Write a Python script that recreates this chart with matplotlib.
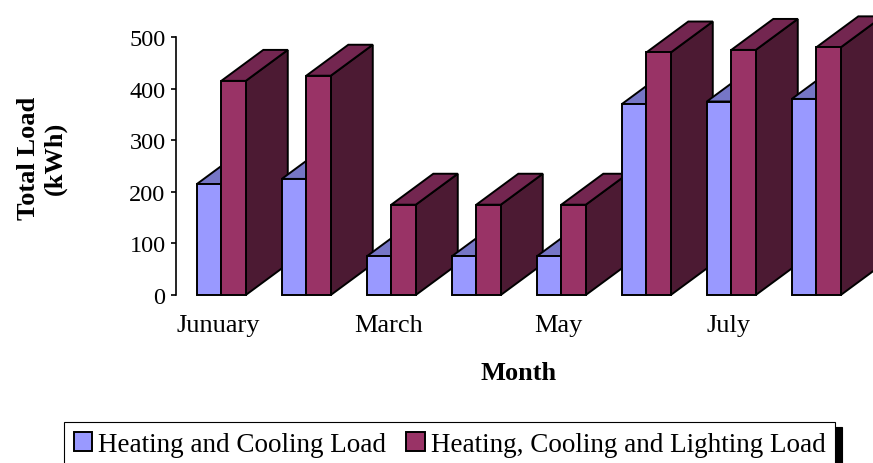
import matplotlib
matplotlib.use("Agg")
import matplotlib.pyplot as plt
from matplotlib.patches import Polygon, Patch

plt.rcParams['font.family'] = ['Liberation Serif', 'DejaVu Serif']

# Monthly loads (kWh)
months = ["Junuary", "February", "March", "April", "May", "June", "July", "August"]
heat_cool = [215, 225, 75, 75, 75, 370, 375, 380]
heat_cool_light = [415, 425, 175, 175, 175, 470, 475, 480]
series_names = ["Heating and Cooling Load", "Heating, Cooling and Lighting Load"]
y_ticks = [0, 100, 200, 300, 400, 500]

# front / top / side shades for each series
shades = [
    ("#9999FF", "#7676C6", "#4D4D80"),
    ("#993366", "#732650", "#4C1A33"),
]

W, H = 873, 464
fig = plt.figure(figsize=(W / 100, H / 100), dpi=100)
ax = fig.add_axes([176 / W, (H - 296) / H, (W - 176) / W, 258 / H])

bar_w = 0.288
start = 0.245
depth_x = 0.494   # depth offset in category units
depth_y = 60      # depth offset in kWh units


def draw_bar(x0, h, colors):
    front, top, side = colors
    x1 = x0 + bar_w
    kw = dict(edgecolor="black", linewidth=1.4, joinstyle="miter", clip_on=False)
    ax.add_patch(Polygon([(x1, 0), (x1 + depth_x, depth_y), (x1 + depth_x, h + depth_y), (x1, h)],
                         facecolor=side, **kw))
    ax.add_patch(Polygon([(x0, h), (x1, h), (x1 + depth_x, h + depth_y), (x0 + depth_x, h + depth_y)],
                         facecolor=top, **kw))
    ax.add_patch(Polygon([(x0, 0), (x1, 0), (x1, h), (x0, h)],
                         facecolor=front, **kw))


for i in range(len(months)):
    for s, vals in enumerate([heat_cool, heat_cool_light]):
        draw_bar(i + start + s * bar_w, vals[i], shades[s])

ax.set_xlim(0, (W - 176) / 85)
ax.set_ylim(0, 500)
for side in ["top", "right", "bottom"]:
    ax.spines[side].set_visible(False)
ax.spines["left"].set_linewidth(1.2)
ax.set_yticks(y_ticks)
ax.tick_params(axis="y", direction="out", length=3.5, width=1.2, pad=4, labelsize=17.5)
ax.set_xticks([i + 0.5 for i in range(0, len(months), 2)])
ax.set_xticklabels(months[::2])
ax.tick_params(axis="x", length=0, pad=14, labelsize=19)
ax.patch.set_visible(False)

fig.text(519 / W, 1 - 373 / H, "Month", ha="center", va="center",
         fontsize=19, fontweight="bold")
fig.text(42 / W, 1 - 158 / H, "Total Load\n(kWh)", ha="center", va="center",
         rotation=90, fontsize=19, fontweight="bold", linespacing=1.15)

handles = [Patch(facecolor=shades[k][0], edgecolor="black", linewidth=1.4) for k in range(2)]
fig.legend(handles, series_names, loc="upper left",
           bbox_to_anchor=(64 / W, 1 - 423 / H), borderaxespad=0,
           ncol=2, fontsize=19.5, frameon=True, fancybox=False, framealpha=1,
           edgecolor="black", handlelength=0.68, handleheight=0.68,
           handletextpad=0.22, columnspacing=0.74, borderpad=0.36,
           shadow={"ox": 4.7, "oy": -3.6, "shade": 1.0, "alpha": 1})
fig.legends[0].get_frame().set_linewidth(0.8)

fig.savefig("out.png", dpi=100)
